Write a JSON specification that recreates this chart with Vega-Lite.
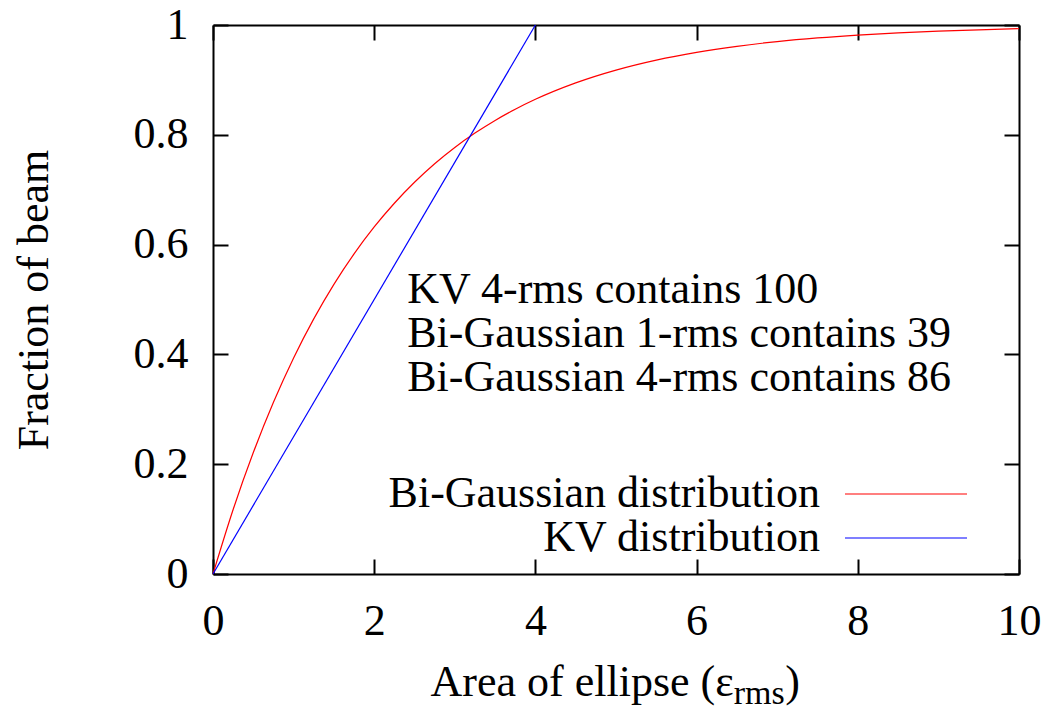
{
  "$schema": "https://vega.github.io/schema/vega-lite/v6.json",
  "width": 806,
  "height": 549,
  "autosize": {"type": "none"},
  "padding": {"left": 213, "top": 25, "right": 30, "bottom": 133},
  "background": "white",
  "config": {
    "view": {"stroke": null},
    "font": "Liberation Serif",
    "axis": {
      "grid": false,
      "domainColor": "black",
      "domainWidth": 2,
      "tickColor": "black",
      "tickWidth": 2,
      "tickSize": -15,
      "labelFont": "Liberation Serif",
      "labelFontSize": 44,
      "labelColor": "black",
      "labelPadding": 40,
      "labelFlush": false,
      "labelOverlap": false,
      "titleFont": "Liberation Serif",
      "titleFontSize": 44,
      "titleFontWeight": "normal",
      "titleColor": "black"
    },
    "legend": {
      "orient": "none",
      "legendX": 671,
      "legendY": 447,
      "symbolType": "M-3,0H3",
      "symbolSize": 1654,
      "symbolStrokeWidth": 1.2,
      "symbolFillColor": "transparent",
      "symbolOpacity": 1,
      "symbolOffset": 0,
      "labelAlign": "right",
      "labelOffset": -108,
      "labelFontSize": 44,
      "labelFont": "Liberation Serif",
      "labelColor": "black",
      "labelLimit": 0,
      "rowPadding": 0,
      "padding": 0
    }
  },
  "datasets": {
    "curves": [
      {"series": "Bi-Gaussian distribution", "area": 0, "fraction": 0},
      {"series": "Bi-Gaussian distribution", "area": 0.25, "fraction": 0.1175},
      {"series": "Bi-Gaussian distribution", "area": 0.5, "fraction": 0.2212},
      {"series": "Bi-Gaussian distribution", "area": 0.75, "fraction": 0.3127},
      {"series": "Bi-Gaussian distribution", "area": 1, "fraction": 0.3935},
      {"series": "Bi-Gaussian distribution", "area": 1.25, "fraction": 0.4647},
      {"series": "Bi-Gaussian distribution", "area": 1.5, "fraction": 0.5276},
      {"series": "Bi-Gaussian distribution", "area": 1.75, "fraction": 0.5831},
      {"series": "Bi-Gaussian distribution", "area": 2, "fraction": 0.6321},
      {"series": "Bi-Gaussian distribution", "area": 2.25, "fraction": 0.6753},
      {"series": "Bi-Gaussian distribution", "area": 2.5, "fraction": 0.7135},
      {"series": "Bi-Gaussian distribution", "area": 2.75, "fraction": 0.7472},
      {"series": "Bi-Gaussian distribution", "area": 3, "fraction": 0.7769},
      {"series": "Bi-Gaussian distribution", "area": 3.25, "fraction": 0.8031},
      {"series": "Bi-Gaussian distribution", "area": 3.5, "fraction": 0.8262},
      {"series": "Bi-Gaussian distribution", "area": 3.75, "fraction": 0.8466},
      {"series": "Bi-Gaussian distribution", "area": 4, "fraction": 0.8647},
      {"series": "Bi-Gaussian distribution", "area": 4.5, "fraction": 0.8946},
      {"series": "Bi-Gaussian distribution", "area": 5, "fraction": 0.9179},
      {"series": "Bi-Gaussian distribution", "area": 5.5, "fraction": 0.9361},
      {"series": "Bi-Gaussian distribution", "area": 6, "fraction": 0.9502},
      {"series": "Bi-Gaussian distribution", "area": 6.5, "fraction": 0.9612},
      {"series": "Bi-Gaussian distribution", "area": 7, "fraction": 0.9698},
      {"series": "Bi-Gaussian distribution", "area": 7.5, "fraction": 0.9765},
      {"series": "Bi-Gaussian distribution", "area": 8, "fraction": 0.9817},
      {"series": "Bi-Gaussian distribution", "area": 8.5, "fraction": 0.9857},
      {"series": "Bi-Gaussian distribution", "area": 9, "fraction": 0.9889},
      {"series": "Bi-Gaussian distribution", "area": 9.5, "fraction": 0.9913},
      {"series": "Bi-Gaussian distribution", "area": 10, "fraction": 0.9933},
      {"series": "KV distribution", "area": 0, "fraction": 0},
      {"series": "KV distribution", "area": 4, "fraction": 1}
    ]
  },
  "resolve": {"axis": {"x": "independent", "y": "independent"}},
  "layer": [
    {
      "data": {"name": "curves"},
      "mark": {"type": "line", "strokeWidth": 1.2, "interpolate": "monotone"},
      "encoding": {
        "x": {
          "field": "area", "type": "quantitative",
          "scale": {"domain": [0, 10], "nice": false, "zero": false},
          "axis": {"orient": "bottom", "values": [0, 2, 4, 6, 8, 10], "title": null, "format": "d"}
        },
        "y": {
          "field": "fraction", "type": "quantitative",
          "scale": {"domain": [0, 1], "nice": false, "zero": false},
          "axis": {"orient": "left", "values": [0, 0.2, 0.4, 0.6, 0.8, 1], "format": "~g", "title": "Fraction of beam", "titlePadding": 77}
        },
        "color": {
          "field": "series", "type": "nominal",
          "scale": {"domain": ["Bi-Gaussian distribution", "KV distribution"], "range": ["#ff0000", "#0000ff"]},
          "legend": {"title": null}
        }
      }
    },
    {
      "data": {"name": "curves"},
      "mark": {"type": "line", "strokeOpacity": 0},
      "encoding": {
        "x": {
          "field": "area", "type": "quantitative",
          "axis": {"orient": "top", "values": [0, 2, 4, 6, 8, 10], "labels": false, "title": null}
        },
        "y": {
          "field": "fraction", "type": "quantitative",
          "axis": {"orient": "right", "values": [0, 0.2, 0.4, 0.6, 0.8, 1], "labels": false, "title": null}
        },
        "detail": {"field": "series"}
      }
    },
    {
      "data": {"values": [{}]},
      "mark": {"type": "text", "align": "left", "baseline": "alphabetic", "fontSize": 44, "font": "Liberation Serif", "lineHeight": 44, "color": "black"},
      "encoding": {
        "x": {"datum": 2.41, "type": "quantitative", "axis": null},
        "y": {"datum": 0.4936, "type": "quantitative", "axis": null},
        "text": {"value": ["KV 4-rms contains 100", "Bi-Gaussian 1-rms contains 39", "Bi-Gaussian 4-rms contains 86"]}
      }
    },
    {
      "data": {"values": [{}]},
      "mark": {"type": "text", "align": "right", "baseline": "alphabetic", "fontSize": 44, "font": "Liberation Serif", "color": "black"},
      "encoding": {
        "x": {"datum": 6.46, "type": "quantitative", "axis": null},
        "y": {"datum": -0.222, "type": "quantitative", "axis": null},
        "text": {"value": "Area of ellipse (ε"}
      }
    },
    {
      "data": {"values": [{}]},
      "mark": {"type": "text", "align": "left", "baseline": "alphabetic", "fontSize": 34, "font": "Liberation Serif", "color": "black"},
      "encoding": {
        "x": {"datum": 6.46, "type": "quantitative", "axis": null},
        "y": {"datum": -0.236, "type": "quantitative", "axis": null},
        "text": {"value": "rms"}
      }
    },
    {
      "data": {"values": [{}]},
      "mark": {"type": "text", "align": "left", "baseline": "alphabetic", "fontSize": 44, "font": "Liberation Serif", "color": "black"},
      "encoding": {
        "x": {"datum": 7.1, "type": "quantitative", "axis": null},
        "y": {"datum": -0.222, "type": "quantitative", "axis": null},
        "text": {"value": ")"}
      }
    }
  ]
}
